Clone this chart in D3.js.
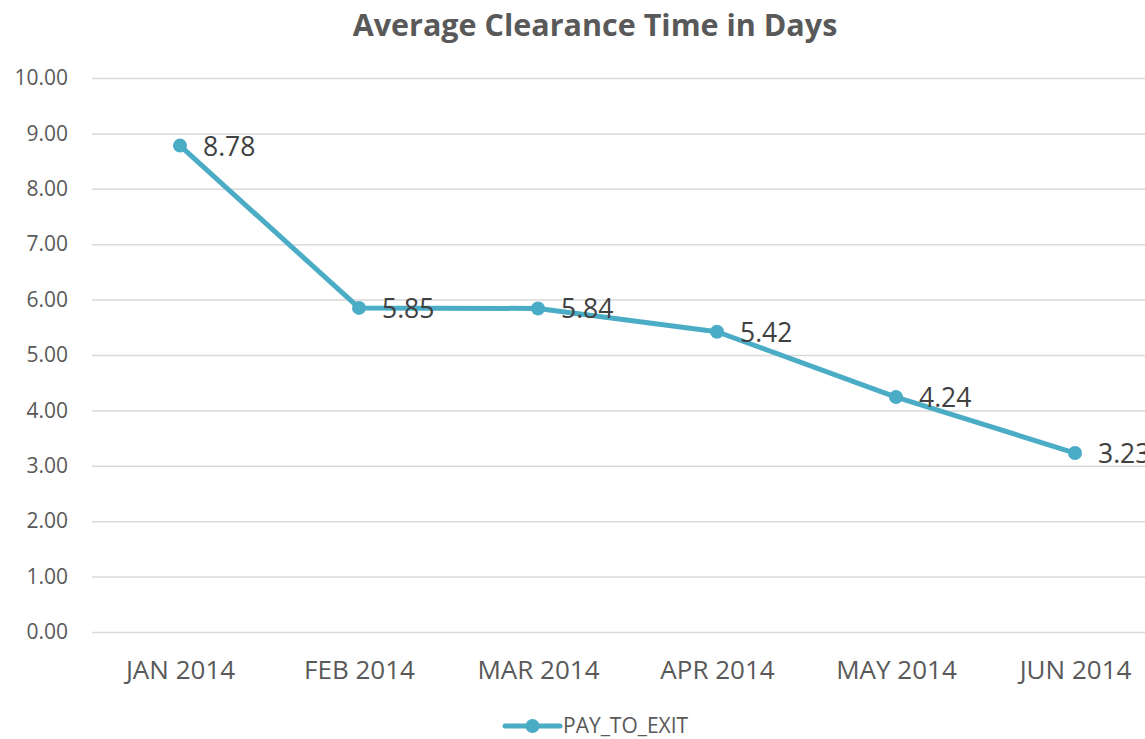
<!DOCTYPE html>
<html>
<head>
<meta charset="utf-8">
<script src="https://cdn.jsdelivr.net/npm/d3@7"></script>
<style>
  body { margin: 0; background: #fff; overflow: hidden; }
  text { font-family: "Open Sans", sans-serif; fill: #595959; }
</style>
</head>
<body>
<svg id="chart" width="1145" height="739"></svg>
<script>
// data
var months = ["JAN 2014", "FEB 2014", "MAR 2014", "APR 2014", "MAY 2014", "JUN 2014"];
var payToExit = [8.78, 5.85, 5.84, 5.42, 4.24, 3.23];
var yTicks = [0, 1, 2, 3, 4, 5, 6, 7, 8, 9, 10];
var seriesName = "PAY_TO_EXIT";
var lineColor = "#4bacc6";

var svg = d3.select("#chart");

var x = d3.scalePoint()
  .domain(months)
  .range([90.5, 1164.5])
  .padding(0.5);

var y = d3.scaleLinear()
  .domain([0, 10])
  .range([632, 78]);

// title
svg.append("text")
  .attr("x", 595)
  .attr("y", 36)
  .attr("text-anchor", "middle")
  .style("font-size", "30.5px")
  .style("font-weight", "bold")
  .text("Average Clearance Time in Days");

// gridlines + y labels
var yAxis = d3.axisLeft(y)
  .tickValues(yTicks)
  .tickFormat(d3.format(".2f"))
  .tickSize(-1100)
  .tickPadding(24);

var gy = svg.append("g")
  .attr("transform", "translate(92,0)")
  .call(yAxis);
gy.select(".domain").remove();
gy.selectAll(".tick line").attr("stroke", "#d9d9d9").attr("stroke-width", 1.5);
gy.selectAll(".tick text").style("font-size", "21px").attr("fill", "#595959");

// x labels
var xAxis = d3.axisBottom(x).tickSize(0).tickPadding(29);
var gx = svg.append("g")
  .attr("transform", "translate(0,632)")
  .call(xAxis);
gx.select(".domain").remove();
gx.selectAll(".tick text").style("font-size", "26px").attr("fill", "#595959");

// line
var line = d3.line()
  .x(function(d, i) { return x(months[i]); })
  .y(function(d) { return y(d); });

svg.append("path")
  .datum(payToExit)
  .attr("d", line)
  .attr("fill", "none")
  .attr("stroke", lineColor)
  .attr("stroke-width", 5)
  .attr("stroke-linejoin", "round");

svg.selectAll("circle.pt")
  .data(payToExit)
  .enter().append("circle")
  .attr("class", "pt")
  .attr("cx", function(d, i) { return x(months[i]); })
  .attr("cy", function(d) { return y(d); })
  .attr("r", 7)
  .attr("fill", lineColor);

// data labels
svg.selectAll("text.lbl")
  .data(payToExit)
  .enter().append("text")
  .attr("class", "lbl")
  .attr("x", function(d, i) { return x(months[i]) + 23; })
  .attr("y", function(d) { return y(d) + 10; })
  .style("font-size", "26.5px")
  .style("fill", "#404040")
  .text(function(d) { return d3.format(".2f")(d); });

// legend
var lg = svg.append("g").attr("transform", "translate(505,726)");
lg.append("line")
  .attr("x1", 0).attr("x2", 55)
  .attr("stroke", lineColor)
  .attr("stroke-width", 5)
  .attr("stroke-linecap", "round");
lg.append("circle").attr("cx", 27.5).attr("r", 7).attr("fill", lineColor);
lg.append("text")
  .attr("x", 58)
  .attr("y", 7)
  .style("font-size", "21px")
  .text(seriesName);
</script>
</body>
</html>
